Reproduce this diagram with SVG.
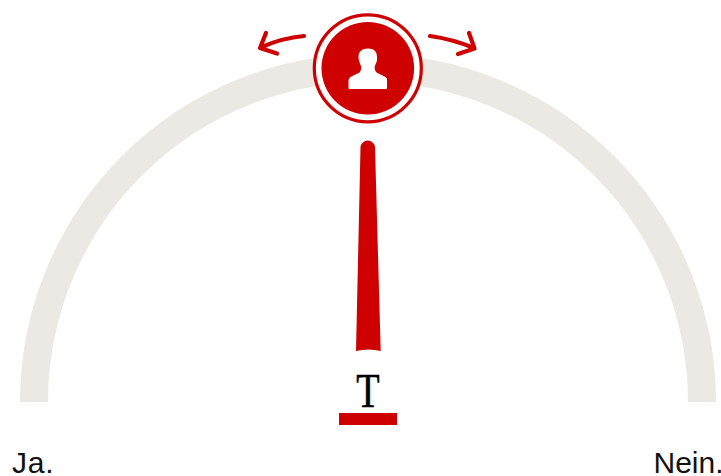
<svg xmlns="http://www.w3.org/2000/svg" width="721" height="476" viewBox="0 0 721 476">
<style>
.lab{font-family:"Liberation Sans",Arial,sans-serif;font-size:30px;fill:#111}
.arr{fill:none;stroke:#cf0000;stroke-width:4.2;stroke-linecap:round;stroke-linejoin:round}
.red{fill:#cf0000}
</style>
<rect width="721" height="476" fill="#fff"/>
<g id="scale"><path d="M34 402A334 334 0 0 1 702 402" fill="none" stroke="#eae9e4" stroke-width="28"/></g>
<g id="connectors">
<path class="arr" d="M304 36Q282 38 262 47M266 33L260 48L277 53.500"/>
<path class="arr" d="M430 36Q452 39 474 48M469 33L474.500 48.500L458 54"/>
</g>
<g id="person">
<circle cx="367.8" cy="68.3" r="53.5" fill="#fff" stroke="#cf0000" stroke-width="3.2"/>
<circle cx="367.8" cy="68.3" r="46.3" class="red"/>
<path fill="#fff" d="M368 48.500C374.500 48.500 377 52 377 57C377 58 377.200 60 376.700 61.500C376.300 63 375.500 64.500 374.800 66C374.500 68.500 374.800 70.500 376.500 72.500L385.500 77C386.800 77.800 387 79 387 80.500V87.500C387 88.500 386.500 89 385.500 89H350C349 89 348.500 88.500 348.500 87.500V81C348.500 79 349.200 78 350.500 77L359.500 72.500C361 70.500 361.500 68.500 361 66C360.300 64.500 359.700 63 359.300 61.500C358.800 60 358.500 58 358.500 57C358.500 52 361.500 48.500 368 48.500Z"/>
</g>
<g id="needle">
<path class="red" d="M360.500 147A7.300 7.300 0 0 1 375 147L380.700 351Q368.500 348 356 351Z"/>
<rect class="red" x="339" y="413" width="58" height="12"/>
<text transform="translate(368 407) scale(.78 1)" text-anchor="middle" font-family="'Liberation Serif','Times New Roman',serif" font-size="49" fill="#000" stroke="#000" stroke-width=".6">T</text>
</g>
<g id="labels">
<text class="lab" x="12" y="473" letter-spacing=".8">Ja.</text>
<text class="lab" x="653.500" y="473">Nein.</text>
</g>
</svg>
